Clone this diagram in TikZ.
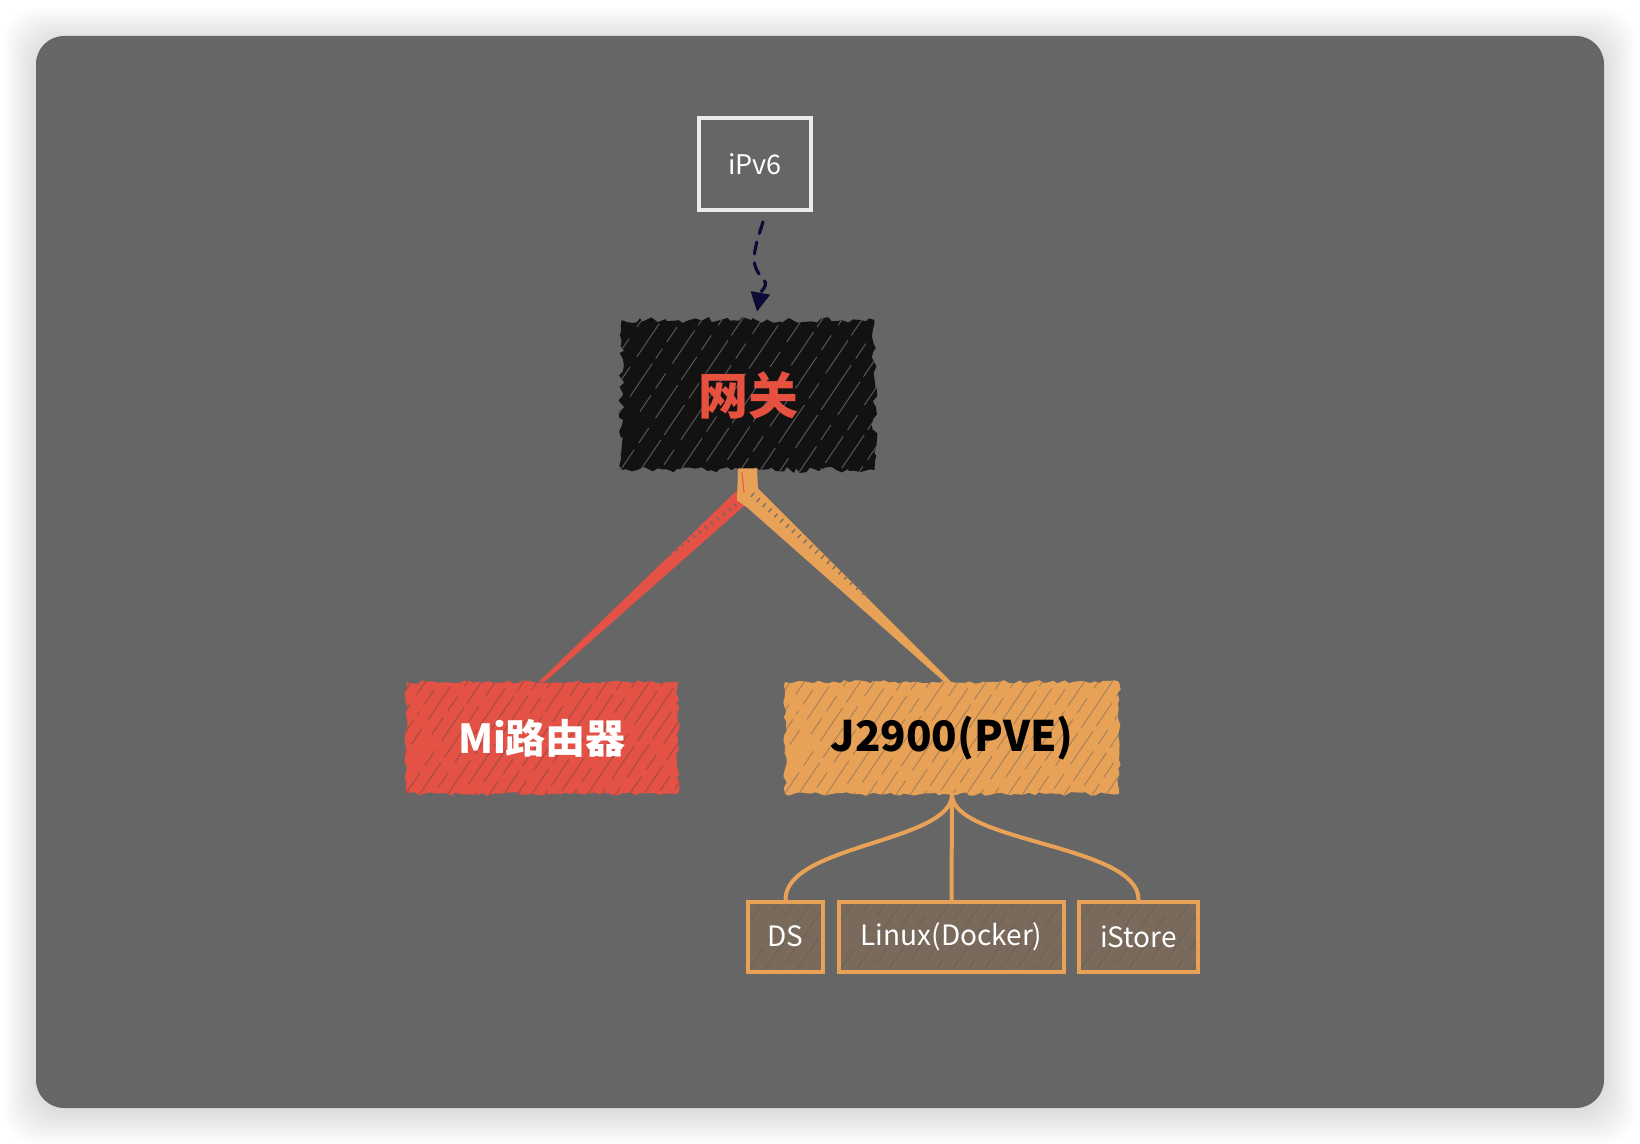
\documentclass[tikz,border=0pt]{standalone}
\usepackage{fontspec}
\setmainfont{Noto Sans CJK SC}
\usetikzlibrary{decorations.pathmorphing,arrows.meta,calc}
\definecolor{bggray}{HTML}{666666}
\definecolor{ipwhite}{HTML}{E9E9EE}
\definecolor{gwblack}{HTML}{121212}
\definecolor{gwhatch}{HTML}{5C5C5C}
\definecolor{gwred}{HTML}{E5503F}
\definecolor{mired}{HTML}{E35245}
\definecolor{mihatch}{HTML}{A84C42}
\definecolor{jorange}{HTML}{E8A257}
\definecolor{jhatch}{HTML}{AE8458}
\definecolor{childfill}{HTML}{7A6A5B}
\definecolor{childhatch}{HTML}{6A625A}
\definecolor{arrnavy}{HTML}{0B0B36}
\tikzset{
  rough/.style={decorate, decoration={random steps, segment length=2.5pt, amplitude=#1}},
  hatch/.style n args={3}{path picture={
      \foreach \k in {-12,...,32}{
        \pgfmathsetmacro{\off}{mod(\k*37,53)}
        \pgfmathsetmacro{\len}{14+mod(\k*23,19)}
        \draw[#1, line width=#2, dash pattern=on \len pt off 4pt on 9pt off 6pt on 20pt off 3pt]
          ($(path picture bounding box.south west)+(\k*#3,0pt)+(236:\off pt)$) -- ++(56:240pt);
      }}},
  ipv6box/.style={draw=ipwhite, line width=2pt, minimum width=56pt, minimum height=46pt,
      inner sep=0pt, text=white, font=\fontsize{13.5}{15}\selectfont},
  gwbox/.style={fill=gwblack, rough=1.5pt, hatch={gwhatch}{0.45pt}{10pt}, minimum width=126.5pt,
      minimum height=75pt, inner sep=0pt, text=gwred, font=\fontsize{25}{28}\selectfont\bfseries},
  mibox/.style={fill=mired, rough=0.9pt, hatch={mihatch}{0.55pt}{7pt}, minimum width=136pt,
      minimum height=56pt, inner sep=0pt, text=white, font=\fontsize{20}{24}\selectfont\bfseries},
  jbox/.style={fill=jorange, rough=0.9pt, hatch={jhatch}{0.55pt}{7pt}, minimum width=167pt,
      minimum height=56pt, inner sep=0pt, text=black, font=\fontsize{21}{25}\selectfont\bfseries},
  childbox/.style={fill=childfill, draw=jorange, line width=2pt, hatch={childhatch}{0.5pt}{8pt},
      minimum height=35pt, inner sep=0pt, text=white, font=\fontsize{14}{16}\selectfont},
  childlink/.style={draw=jorange, line width=2pt, line cap=round},
  dasharrow/.style={draw=arrnavy, line width=1.6pt, dash pattern=on 6pt off 4.5pt, line cap=round,
      -{Triangle[length=9.5pt,width=9.5pt]}},
}
\begin{document}
\pgfmathsetseed{7}
\begin{tikzpicture}[x=0.5pt,y=-0.5pt]
\useasboundingbox (0,0) rectangle (1640,1144);
\fill[white] (0,0) rectangle (1640,1144);
% soft shadow
\foreach \i in {1,...,16}{
  \fill[black, opacity=0.007, rounded corners=16pt] (36-2*\i,40-2*\i) rectangle (1604+2*\i,1112+2*\i);
}
\fill[bggray, rounded corners=14pt] (36,36) rectangle (1604,1108);

% nodes
\node[ipv6box] (ipv6) at (755,164) {iPv6};
\node[gwbox] (gw) at (748,395) {网关};
\node[mibox] (mi) at (542,738) {Mi路由器};
\node[jbox] (j) at (952,738) {J2900(PVE)};
\node[childbox, minimum width=37.5pt] (ds) at (785.5,936.5) {DS};
\node[childbox, minimum width=112.5pt] (linux) at (951.5,936.5) {Linux(Docker)};
\node[childbox, minimum width=59.5pt] (istore) at (1138.5,936.5) {iStore};

% dashed arrow iPv6 -> gateway
\coordinate (a0) at ($(ipv6.south)+(8,10)$);
\coordinate (a1) at ($(gw.north)+(9,-8)$);
\draw[dasharrow] (a0) .. controls ($(a0)+(-8,25)$) and ($(a0)+(-14,42)$) .. ($(a0)+(-2,54)$)
   .. controls ($(a0)+(8,64)$) and ($(a1)+(4,-22)$) .. (a1);

% red link gateway -> Mi
\fill[mired] ($(gw.south)+(-11,20)$) -- ($(gw.south)+(-1,33)$) -- ($(mi.north)+(3,0)$) -- ($(mi.north)+(-3,0)$) -- cycle;
\draw[bggray!85!mired, line width=2pt, dash pattern=on 0.7pt off 3pt]
   ($(gw.south)+(-6,30)$) -- ($(gw.south)!0.45!(mi.north)$);
% orange link gateway -> J2900
\fill[jorange] ($(gw.south)+(-10,-2)$) -- ($(gw.south)+(9,-2)$) -- ($(gw.south)+(10,18)$)
   -- ($(j.north)+(-1,0)$) -- ($(j.north)+(-8,0)$) -- ($(gw.south)+(-1,37)$)
   -- ($(gw.south)+(-11,30)$) -- cycle;
\draw[bggray!80!jorange, line width=2.5pt, dash pattern=on 0.7pt off 3.2pt]
   ($(gw.south)+(4,24)$) -- ($(gw.south)!0.6!($(j.north)+(-4,0)$)$);
\draw[mired!80!jorange, line width=0.6pt] ($(gw.south)+(-6,2)$) -- ($(gw.south)+(-4,22)$);

% J2900 -> children
\draw[childlink] (j.south) .. controls ($(j.south)+(0,48)$) and ($(ds.north)+(0,-55)$) .. (ds.north);
\draw[childlink] (j.south) -- (linux.north);
\draw[childlink] (j.south) .. controls ($(j.south)+(0,48)$) and ($(istore.north)+(0,-55)$) .. (istore.north);
\end{tikzpicture}
\end{document}
